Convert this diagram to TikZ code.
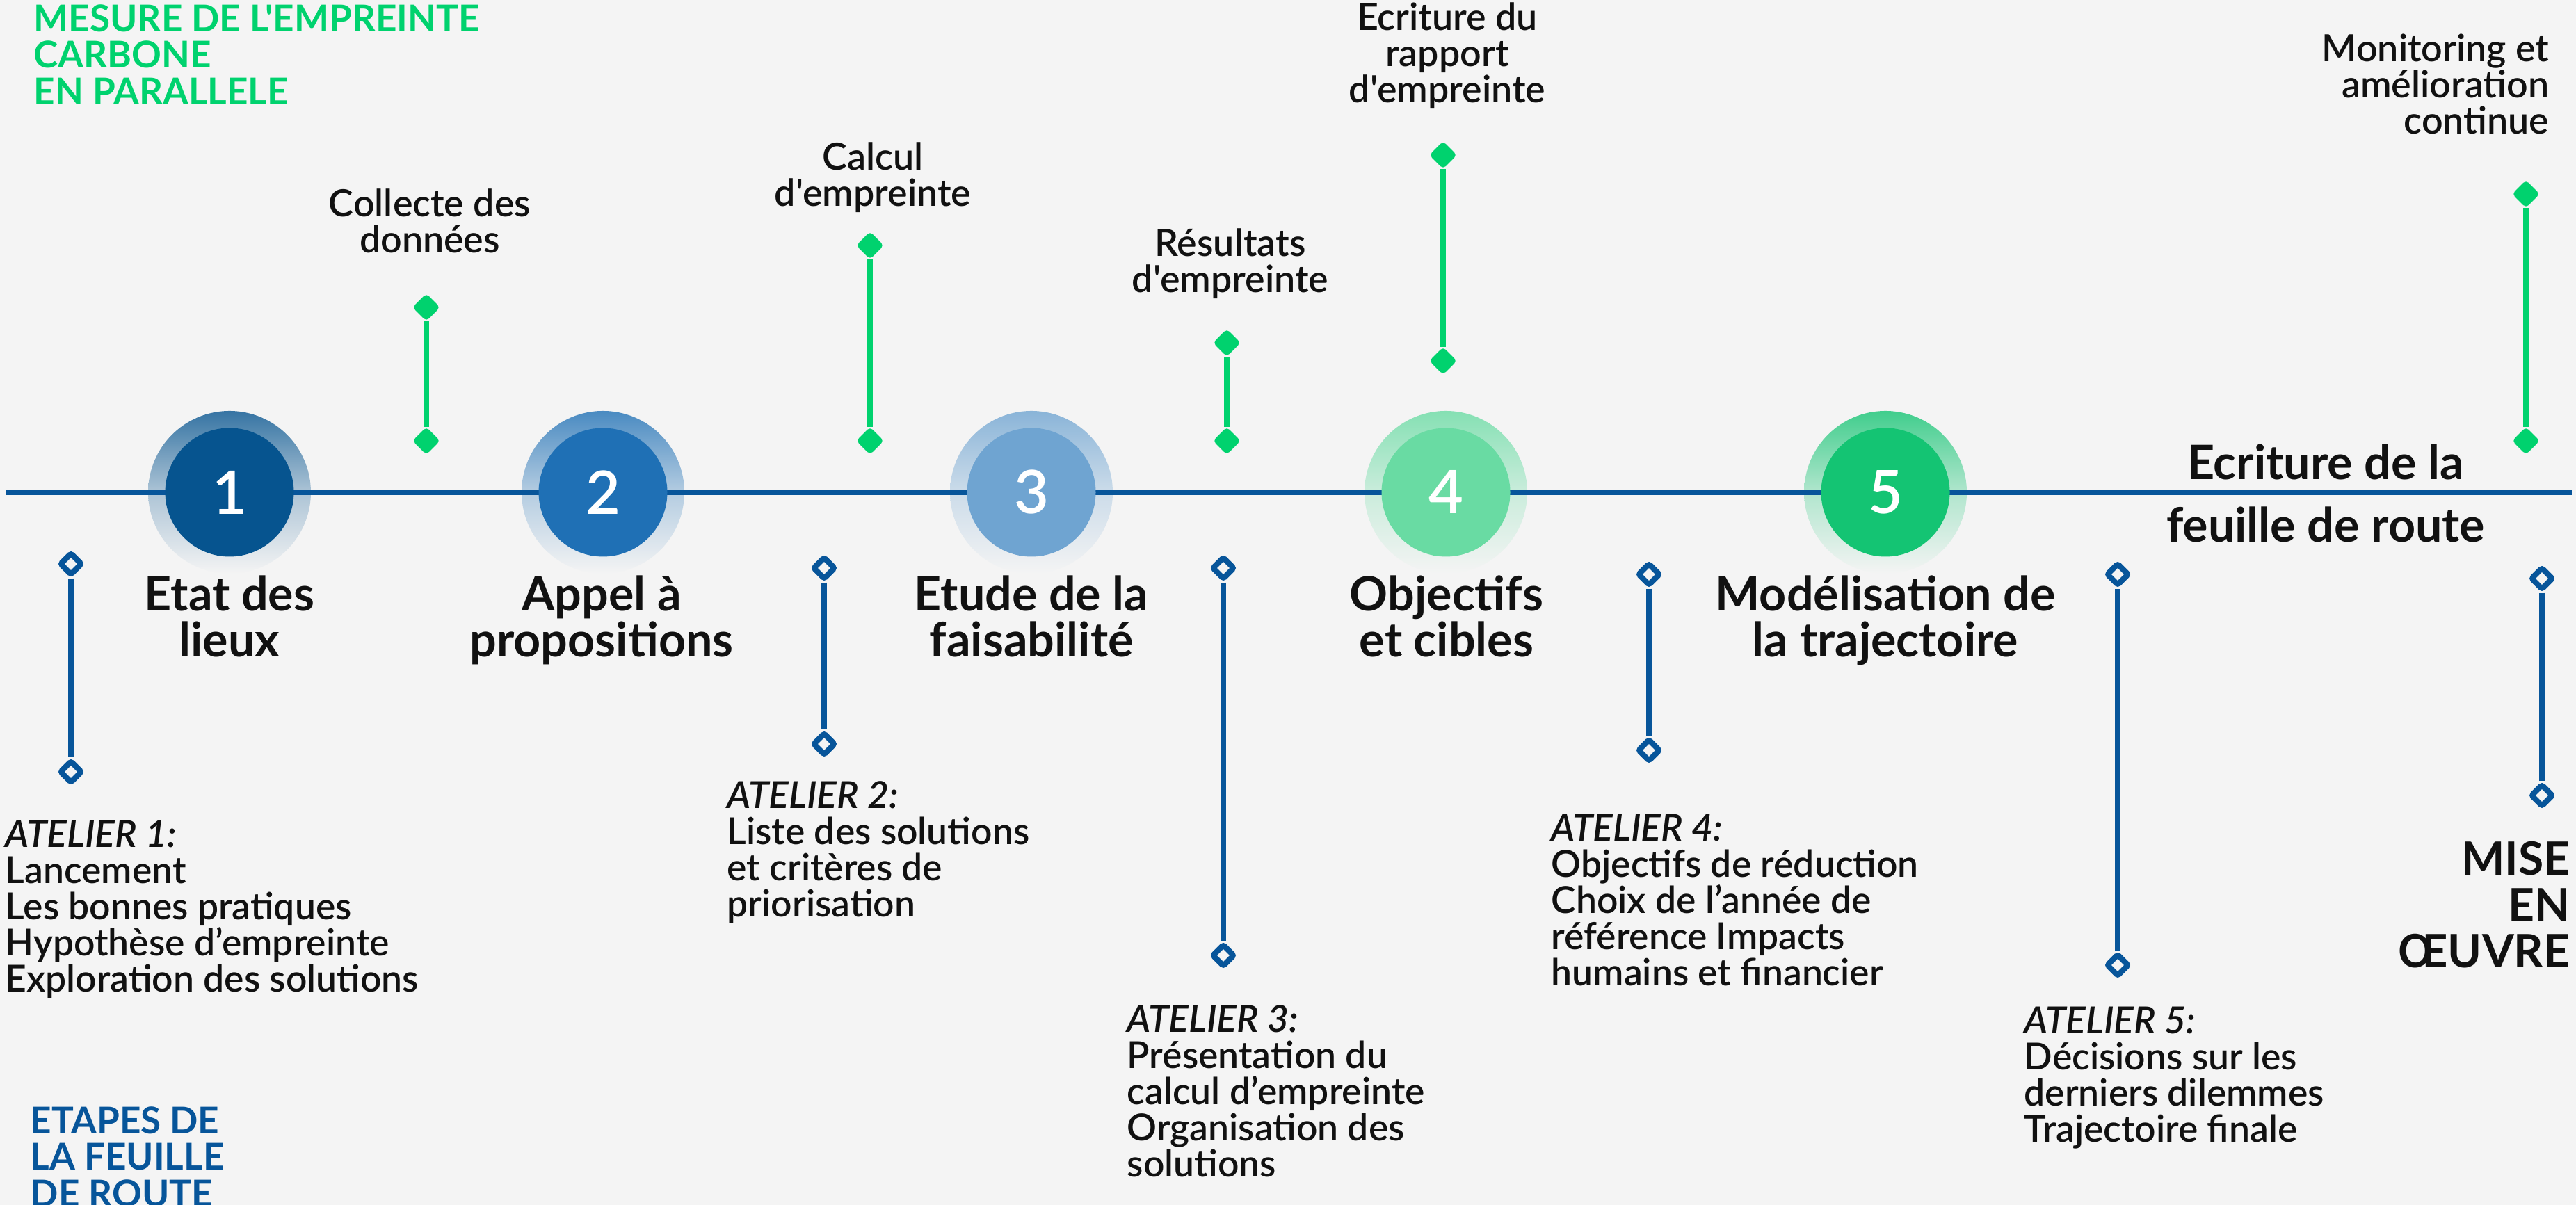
\documentclass[tikz,border=0pt]{standalone}
\usepackage{fontspec}
\newfontfamily\latofont{Lato}
\IfFontExistsTF{Lato Semibold}{\newfontfamily\latomid{Lato Semibold}}{\newfontfamily\latomid{Lato}}
\usetikzlibrary{shapes.geometric}
\AtBeginDocument{\lineskiplimit=-50pt\relax}

\definecolor{bgc}{HTML}{F4F4F4}
\definecolor{ink}{HTML}{111111}
\definecolor{lineblue}{HTML}{07559A}
\definecolor{mint}{HTML}{00D26E}
\definecolor{stepa}{HTML}{06548F}
\definecolor{stepb}{HTML}{1F70B5}
\definecolor{stepc}{HTML}{6FA4D1}
\definecolor{stepd}{HTML}{69DBA3}
\definecolor{stepe}{HTML}{14C473}

\begin{document}
\begin{tikzpicture}[
    mainline/.style={lineblue, line width=2.1pt},
    halo/.style={top color=#1!80!bgc, bottom color=bgc, middle color=#1!30!bgc},
    stepdot/.style={circle, inner sep=0pt, minimum size=1.85cm, text=white,
        font=\latomid\fontsize{24.5}{24.5}\selectfont},
    steptitle/.style={anchor=north, inner sep=0pt, align=center, text=ink,
        font=\latofont\bfseries\fontsize{19.4}{18.8}\selectfont},
    glabel/.style={anchor=north, inner sep=0pt, align=center, text=ink,
        font=\latomid\fontsize{15.3}{14.8}\selectfont},
    atelier/.style={anchor=north west, inner sep=0pt, align=left, text=ink,
        font=\latomid\fontsize{15.2}{14.8}\selectfont},
    heading/.style={anchor=north west, inner sep=0pt, align=left,
        font=\latofont\bfseries\fontsize{15.1}{14.9}\selectfont},
    gtip/.style={diamond, aspect=1, fill=mint, draw=mint, line width=0.8pt,
        rounded corners=1.2pt, inner sep=0pt, minimum size=0.37cm},
    btip/.style={diamond, aspect=1, fill=bgc, draw=lineblue, line width=2.3pt,
        rounded corners=0.8pt, inner sep=0pt, minimum size=0.33cm},
    gline/.style={mint, line width=2.4pt},
    bline/.style={lineblue, line width=2.3pt}
]
    % Page
    \fill[bgc] (0,0) rectangle (37.04,17.33);
    \useasboundingbox (0,0) rectangle (37.04,17.33);

    % Step centres and halos
    \coordinate (c1) at (3.30,10.25);
    \coordinate (c2) at (8.67,10.25);
    \coordinate (c3) at (14.83,10.25);
    \coordinate (c4) at (20.79,10.25);
    \coordinate (c5) at (27.11,10.25);
    \shade[halo=stepa] (c1) circle (1.17);
    \shade[halo=stepb] (c2) circle (1.17);
    \shade[halo=stepc] (c3) circle (1.17);
    \shade[halo=stepd] (c4) circle (1.17);
    \shade[halo=stepe] (c5) circle (1.17);

    % Timeline
    \coordinate (west) at (0.08,10.25);
    \coordinate (east) at (36.98,10.25);
    \draw[mainline] (west) -- (east);

    % Steps
    \node[stepdot, fill=stepa] (s1) at (c1) {1};
    \node[stepdot, fill=stepb] (s2) at (c2) {2};
    \node[stepdot, fill=stepc] (s3) at (c3) {3};
    \node[stepdot, fill=stepd] (s4) at (c4) {4};
    \node[stepdot, fill=stepe] (s5) at (c5) {5};

    \node[steptitle] (t1) at (3.30,9.06) {Etat des\\lieux};
    \node[steptitle] (t2) at (8.65,9.06) {Appel à\\propositions};
    \node[steptitle] (t3) at (14.83,9.06) {Etude de la\\faisabilité};
    \node[steptitle] (t4) at (20.80,9.06) {Objectifs\\et cibles};
    \node[steptitle] (t5) at (27.11,9.06) {Modélisation de\\la trajectoire};
    \node[steptitle, font=\latofont\bfseries\fontsize{19.4}{25.6}\selectfont]
        (road) at (33.44,10.95) {Ecriture de la\\feuille de route};
    \node[steptitle, anchor=north east, align=right,
        font=\latofont\bfseries\fontsize{18.8}{18.8}\selectfont]
        (mise) at (36.96,5.23) {MISE\\EN\\ŒUVRE};

    % Footprint milestones (above)
    \node[gtip] (g1a) at (6.13,12.91) {};
    \node[gtip] (g1b) at (6.13,10.99) {};
    \node[gtip] (g2a) at (12.51,13.80) {};
    \node[gtip] (g2b) at (12.51,10.99) {};
    \node[gtip] (g3a) at (17.64,12.40) {};
    \node[gtip] (g3b) at (17.64,10.99) {};
    \node[gtip] (g4a) at (20.75,15.10) {};
    \node[gtip] (g4b) at (20.75,12.14) {};
    \node[gtip] (g5a) at (36.32,14.54) {};
    \node[gtip] (g5b) at (36.32,10.99) {};
    \draw[gline] (g1a) -- (g1b);
    \draw[gline] (g2a) -- (g2b);
    \draw[gline] (g3a) -- (g3b);
    \draw[gline] (g4a) -- (g4b);
    \draw[gline] (g5a) -- (g5b);

    \node[glabel] (lcollect) at (6.18,14.62) {Collecte des\\données};
    \node[glabel] (lcalcul) at (12.55,15.29) {Calcul\\d'empreinte};
    \node[glabel] (lresult) at (17.69,14.05) {Résultats\\d'empreinte};
    \node[glabel] (lrapport) at (20.81,17.30) {Ecriture du\\rapport\\d'empreinte};
    \node[glabel, anchor=north east, align=right] (lmonitor) at (36.66,16.85)
        {Monitoring et\\amélioration\\continue};

    % Workshops (below)
    \node[btip] (b1a) at (1.02,9.22) {};
    \node[btip] (b1b) at (1.02,6.23) {};
    \node[btip] (b2a) at (11.85,9.16) {};
    \node[btip] (b2b) at (11.85,6.63) {};
    \node[btip] (b3a) at (17.59,9.16) {};
    \node[btip] (b3b) at (17.59,3.59) {};
    \node[btip] (b4a) at (23.71,9.07) {};
    \node[btip] (b4b) at (23.71,6.54) {};
    \node[btip] (b5a) at (30.45,9.07) {};
    \node[btip] (b5b) at (30.45,3.45) {};
    \node[btip] (b6a) at (36.55,9.01) {};
    \node[btip] (b6b) at (36.55,5.89) {};
    \draw[bline] (b1a) -- (b1b);
    \draw[bline] (b2a) -- (b2b);
    \draw[bline] (b3a) -- (b3b);
    \draw[bline] (b4a) -- (b4b);
    \draw[bline] (b5a) -- (b5b);
    \draw[bline] (b6a) -- (b6b);

    \node[atelier] (w1) at (0.07,5.54) {\textit{ATELIER 1:}\\Lancement\\Les bonnes pratiques\\Hypothèse d’empreinte\\Exploration des solutions};
    \node[atelier] (w2) at (10.45,6.10) {\textit{ATELIER 2:}\\Liste des solutions\\et critères de\\priorisation};
    \node[atelier] (w3) at (16.20,2.88) {\textit{ATELIER 3:}\\Présentation du\\calcul d’empreinte\\Organisation des\\solutions};
    \node[atelier] (w4) at (22.30,5.63) {\textit{ATELIER 4:}\\Objectifs de réduction\\Choix de l’année de\\référence Impacts\\humains et financier};
    \node[atelier] (w5) at (29.10,2.86) {\textit{ATELIER 5:}\\Décisions sur les\\derniers dilemmes\\Trajectoire finale};

    % Legends
    \node[heading, text=mint] (hcarbon) at (0.48,17.27) {MESURE DE L'EMPREINTE\\CARBONE\\EN PARALLELE};
    \node[heading, text=lineblue] (hsteps) at (0.43,1.42) {ETAPES DE\\LA FEUILLE\\DE ROUTE};
\end{tikzpicture}
\end{document}
